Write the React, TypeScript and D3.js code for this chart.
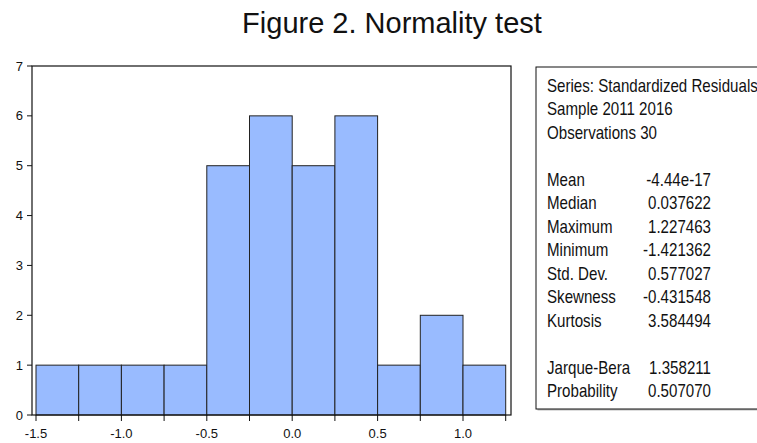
import { useRef, useEffect } from 'react';
import * as d3 from 'd3';

// histogram bins (width 0.25) and counts
const BIN_STARTS = [-1.5, -1.25, -1.0, -0.75, -0.5, -0.25, 0.0, 0.25, 0.5, 0.75, 1.0];
const COUNTS = [1, 1, 1, 1, 5, 6, 5, 6, 1, 2, 1];
const BIN_WIDTH = 0.25;

const X_TICKS = [-1.5, -1.25, -1.0, -0.75, -0.5, -0.25, 0.0, 0.25, 0.5, 0.75, 1.0, 1.25];
const X_LABELS = [-1.5, -1.0, -0.5, 0.0, 0.5, 1.0];
const Y_TICKS = [0, 1, 2, 3, 4, 5, 6, 7];

const INFO_LINES = ['Series: Standardized Residuals', 'Sample 2011 2016', 'Observations 30'];
const STAT_NAMES = ['Mean', 'Median', 'Maximum', 'Minimum', 'Std. Dev.', 'Skewness', 'Kurtosis'];
const STAT_VALUES = ['-4.44e-17', '0.037622', '1.227463', '-1.421362', '0.577027', '-0.431548', '3.584494'];
const TEST_NAMES = ['Jarque-Bera', 'Probability'];
const TEST_VALUES = ['1.358211', '0.507070'];

const W = 757;
const H = 443;
const BAR_FILL = '#99bbff';
const SANS = '"Liberation Sans", Arial, sans-serif';

export default function App() {
  const svgRef = useRef<SVGSVGElement>(null);

  useEffect(() => {
    if (!svgRef.current) return;
    const svg = d3.select(svgRef.current);
    svg.selectAll('*').remove();

    const x = d3.scaleLinear().domain([-1.5, 1.0]).range([36, 463]);
    const y = d3.scaleLinear().domain([0, 7]).range([415, 66]);

    // title
    svg.append('text')
      .attr('x', 392).attr('y', 33)
      .attr('text-anchor', 'middle')
      .style('font-family', SANS).style('font-size', '29px')
      .attr('fill', '#111')
      .text('Figure 2. Normality test');

    // bars
    svg.append('g').selectAll('rect')
      .data(BIN_STARTS.map((b, i) => ({ b, c: COUNTS[i] })))
      .enter().append('rect')
      .attr('x', d => x(d.b))
      .attr('width', d => x(d.b + BIN_WIDTH) - x(d.b))
      .attr('y', d => y(d.c))
      .attr('height', d => y(0) - y(d.c))
      .attr('fill', BAR_FILL)
      .attr('stroke', '#222')
      .attr('stroke-width', 1);

    // frame
    const left = 32, right = 511, top = y(7), bottom = y(0);
    svg.append('rect')
      .attr('x', left).attr('y', top)
      .attr('width', right - left).attr('height', bottom - top)
      .attr('fill', 'none').attr('stroke', '#111').attr('stroke-width', 1.2);

    // y axis
    const yg = svg.append('g');
    Y_TICKS.forEach(t => {
      yg.append('line').attr('x1', left - 5).attr('x2', left).attr('y1', y(t)).attr('y2', y(t)).attr('stroke', '#111');
      yg.append('text')
        .attr('x', left - 9).attr('y', y(t) + 4.5)
        .attr('text-anchor', 'end')
        .style('font-family', SANS).style('font-size', '13px')
        .attr('fill', '#111')
        .text(t);
    });

    // x axis
    const xg = svg.append('g');
    X_TICKS.forEach(t => {
      xg.append('line').attr('x1', x(t)).attr('x2', x(t)).attr('y1', bottom).attr('y2', bottom + 6).attr('stroke', '#111');
    });
    X_LABELS.forEach(t => {
      xg.append('text')
        .attr('x', x(t)).attr('y', bottom + 23)
        .attr('text-anchor', 'middle')
        .style('font-family', SANS).style('font-size', '13px')
        .attr('fill', '#111')
        .text(d3.format('.1f')(t).replace('−', '-'));
    });

    // stats box
    const bx = 536, by = 67, bh = 342;
    svg.append('rect')
      .attr('x', bx + 1.5).attr('y', by + 1.5).attr('width', W).attr('height', bh)
      .attr('fill', '#bbb');
    svg.append('rect')
      .attr('x', bx).attr('y', by).attr('width', W).attr('height', bh)
      .attr('fill', '#fff').attr('stroke', '#111').attr('stroke-width', 1);

    // narrow look: Liberation Sans squeezed horizontally
    const row0 = 91.5, step = 23.5, labelX = 547, valRight = 711;
    const txt = (s: string, row: number, xx: number, anchor = 'start') =>
      svg.append('text')
        .attr('transform', `translate(${xx},${row0 + row * step}) scale(0.84,1)`)
        .attr('text-anchor', anchor)
        .style('font-family', SANS).style('font-size', '18px')
        .attr('fill', '#111')
        .text(s);

    INFO_LINES.forEach((s, i) => txt(s, i, labelX));
    STAT_NAMES.forEach((s, i) => {
      txt(s, 4 + i, labelX);
      txt(STAT_VALUES[i], 4 + i, valRight, 'end');
    });
    TEST_NAMES.forEach((s, i) => {
      txt(s, 12 + i, labelX);
      txt(TEST_VALUES[i], 12 + i, valRight, 'end');
    });
  }, []);

  return (
    <svg ref={svgRef} width={W} height={H} style={{ position: 'absolute', left: 0, top: 0, background: '#fff' }} />
  );
}
